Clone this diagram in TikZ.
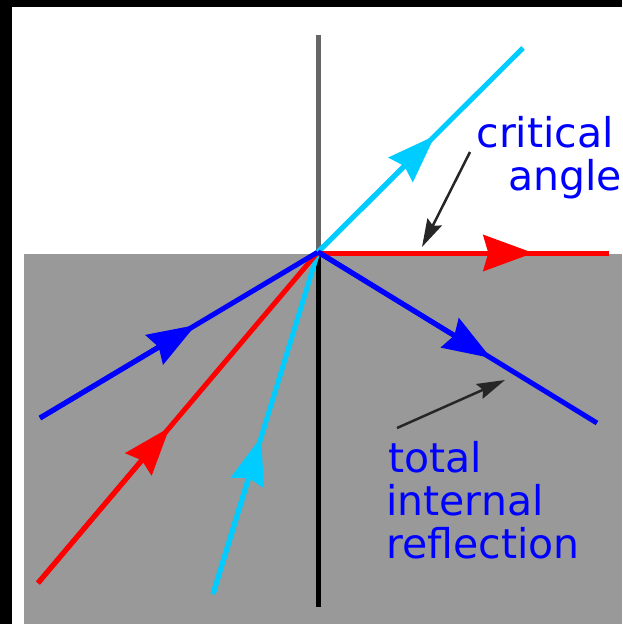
\documentclass[tikz,border=0pt]{standalone}
\usepackage{fontspec}
\setmainfont{DejaVu Sans}
\usetikzlibrary{arrows.meta,calc}
\definecolor{bggray}{RGB}{153,153,153}
\definecolor{axisgray}{RGB}{102,102,102}
\definecolor{skyc}{RGB}{0,204,255}
\definecolor{pureblue}{RGB}{0,0,255}
\definecolor{purered}{RGB}{255,0,0}
\begin{document}
\begin{tikzpicture}[x=1pt,y=-1pt,
  ray/.style={line width=5pt},
  bighead/.style={-{Stealth[length=48pt,width=34pt,inset=5pt]}},
  ptr/.style={line width=2.5pt,black!85,-{Stealth[length=28pt,width=16pt,inset=4pt]}},
  lbl/.style={text=pureblue,inner sep=0pt,font=\fontsize{41}{43}\selectfont}]
\useasboundingbox (0,0) rectangle (622,624);
% frame and media
\fill[black] (0,0) rectangle (622,624);
\fill[white] (12,7) rectangle (622,624);
\fill[bggray] (24,254) rectangle (622,624);
% points
\coordinate (O) at (318,252);
\coordinate (ntop) at (318,35);
\coordinate (nbot) at (318,607);
\coordinate (bA) at (40,418);
\coordinate (rA) at (38,583);
\coordinate (cA) at (213,594);
\coordinate (cB) at (523,48);
\coordinate (rB) at (609,252);
\coordinate (bB) at (597,423);
\coordinate (p1s) at (470,152);
\coordinate (p1e) at (422,247);
\coordinate (p2s) at (397,428);
\coordinate (p2e) at (505,380);
% normal
\draw[axisgray,line width=5pt] (ntop) -- (O);
\draw[black,line width=5pt] (O) -- (nbot);
% incident rays
\draw[ray,skyc] (cA) -- (O);
\draw[ray,skyc,bighead] (cA) -- ($(cA)!0.46!(O)$);
\draw[ray,purered] (rA) -- (O);
\draw[ray,purered,bighead] (rA) -- ($(rA)!0.47!(O)$);
\draw[ray,pureblue] (bA) -- (O);
\draw[ray,pureblue,bighead] (bA) -- ($(bA)!0.56!(O)$);
% refracted / grazing / reflected
\draw[ray,skyc] (O) -- (cB);
\draw[ray,skyc,bighead] (O) -- ($(O)!0.57!(cB)$);
\draw[ray,purered] ([yshift=-1pt]O) -- ([yshift=-1pt]rB);
\draw[ray,purered,-{Stealth[length=50pt,width=36pt,inset=5pt]}] ([yshift=-1pt]O) -- ($([yshift=-1pt]O)!0.74!([yshift=-1pt]rB)$);
\draw[ray,pureblue] (O) -- (bB);
\draw[ray,pureblue,bighead] (O) -- ($(O)!0.62!(bB)$);
% pointers
\draw[ptr] (p1s) -- (p1e);
\draw[ptr] (p2s) -- (p2e);
% labels
\node[lbl,anchor=base east] (crit) at (614,147) {critical};
\node[lbl,anchor=base east] (ang) at (622,190) {angle};
\node[lbl,anchor=base west] (tot) at (388,472) {total};
\node[lbl,anchor=base west] (intl) at (386,515) {internal};
\node[lbl,anchor=base west] (refl) at (386,558) {reflection};
\end{tikzpicture}
\end{document}
